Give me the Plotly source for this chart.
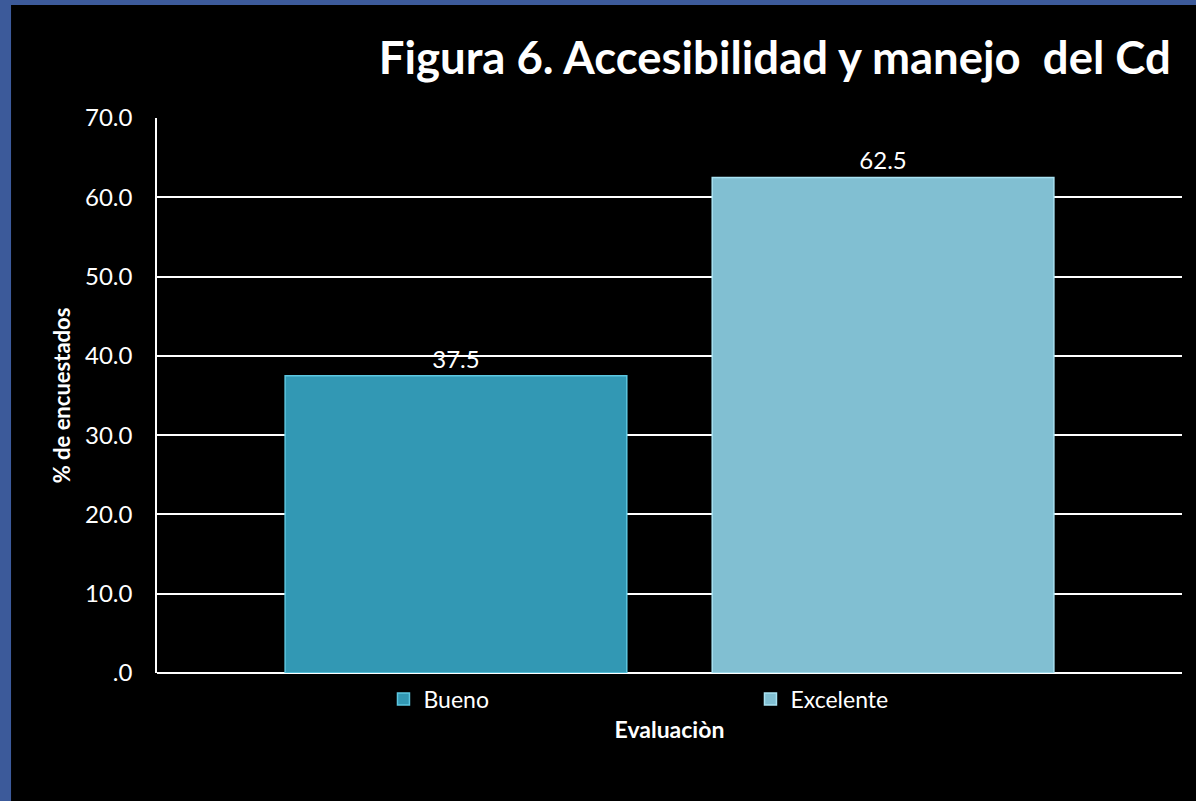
import plotly.graph_objects as go

# data
categorias = ["Bueno", "Excelente"]
porcentajes = [37.5, 62.5]
etiquetas = ["37.5", "62.5"]
colores = ["#3298b4", "#81bfd2"]
bordes = ["#5cc6e0", "#a8e2f2"]
tick_vals = [0, 10, 20, 30, 40, 50, 60, 70]
tick_text = [".0", "10.0", "20.0", "30.0", "40.0", "50.0", "60.0", "70.0"]

fuente = "Lato, Open Sans, sans-serif"

fig = go.Figure()
for i, cat in enumerate(categorias):
    fig.add_trace(go.Bar(x=[i], y=[porcentajes[i]], name=cat,
                         width=0.8,
                         marker=dict(color=colores[i], line=dict(color=bordes[i], width=1.5)),
                         text=[etiquetas[i]], textposition="outside",
                         textfont=dict(color="white", size=24, family=fuente),
                         cliponaxis=False))

# black background with a blue frame on the left and top
fig.add_shape(type="rect", xref="paper", yref="paper",
              x0=-0.1424, x1=1.05, y0=-0.3, y1=1.2036,
              fillcolor="black", line=dict(width=0), layer="below")

fig.update_layout(
    width=1196, height=801,
    margin=dict(l=157, r=14, t=118, b=128),
    paper_bgcolor="#3c5a9a",
    plot_bgcolor="black",
    barmode="overlay",
    font=dict(family=fuente, color="white", size=22),
    title=dict(text="<b>Figura 6. Accesibilidad y manejo  del Cd</b>",
               x=0.979, xanchor="right", y=0.928, yanchor="middle",
               font=dict(size=45.5, color="white", family=fuente)),
    xaxis=dict(range=[-0.7, 1.7], showticklabels=False, showgrid=False,
               zeroline=False, showline=False, fixedrange=True,
               title=dict(text="<b>Evaluaciòn</b>", font=dict(size=23), standoff=48)),
    yaxis=dict(range=[0, 70], tickvals=tick_vals, ticktext=tick_text,
               showgrid=True, gridcolor="white", gridwidth=1.5,
               zeroline=True, zerolinecolor="white", zerolinewidth=1.5,
               showline=True, linecolor="white", linewidth=1.5,
               ticks="", ticklabelstandoff=18,
               tickfont=dict(size=24),
               title=dict(text="<b>% de encuestados</b>", font=dict(size=22), standoff=8)),
    legend=dict(orientation="h", x=0.579, xanchor="center", y=-0.008, yanchor="top",
                entrywidth=322, font=dict(size=23), bgcolor="rgba(0,0,0,0)"),
    bargap=0.2,
)

fig.write_html("out.html", config={"displayModeBar": False},
               post_script="document.body.style.margin='0';")
